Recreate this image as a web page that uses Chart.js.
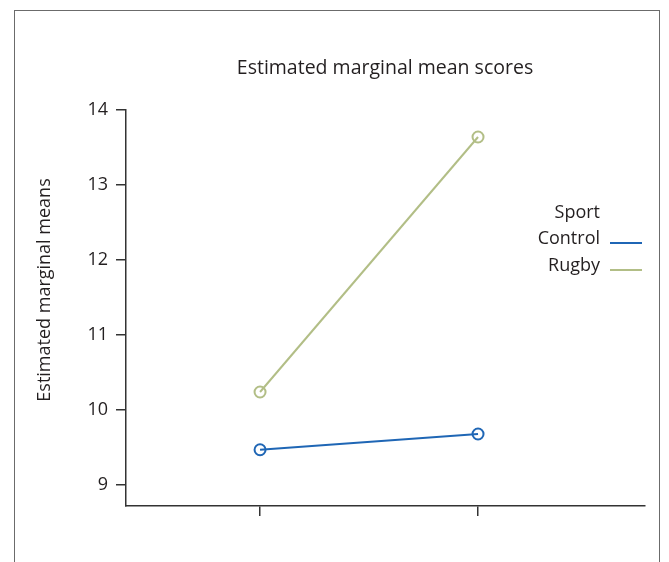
<!DOCTYPE html>
<html>
<head>
<meta charset="utf-8">
<script src="https://cdn.jsdelivr.net/npm/chart.js@4/dist/chart.umd.min.js"></script>
<style>
  html, body { margin: 0; padding: 0; background: #fff; }
  #wrap { position: relative; width: 669px; height: 562px; }
  #frame { position: absolute; left: 14px; top: 10px; width: 646px; height: 560px; border: 1px solid #6b6b6b; box-sizing: border-box; }
  canvas { position: absolute; left: 0; top: 0; }
</style>
</head>
<body>
<div id="wrap">
  <div id="frame"></div>
  <canvas id="chart" width="669" height="562"></canvas>
</div>
<script>
// Group positions along the x axis (two time points, unlabeled)
const groups = [1, 2];
// Estimated marginal means per sport
const controlMeans = [9.47, 9.68];
const rugbyMeans = [10.24, 13.64];
const seriesNames = ['Control', 'Rugby'];
const legendTitle = 'Sport';
const yTicks = [9, 10, 11, 12, 13, 14];
const chartTitle = 'Estimated marginal mean scores';
const yTitle = 'Estimated marginal means';

const FONT = '"Open Sans", "Noto Sans", sans-serif';
const INK = '#231f20';
const BLUE = '#1f66b5';
const OLIVE = '#b2be86';

const toPoints = (vals) => vals.map((v, i) => ({ x: groups[i], y: v }));

const annotations = {
  id: 'annotations',
  afterDraw(chart) {
    const ctx = chart.ctx;
    ctx.save();
    ctx.fillStyle = INK;
    ctx.textBaseline = 'middle';
    // Title
    ctx.font = '19.5px ' + FONT;
    ctx.textAlign = 'center';
    ctx.fillText(chartTitle, 385, 68);
    // Y axis title
    ctx.font = '18px ' + FONT;
    ctx.save();
    ctx.translate(45, 290);
    ctx.rotate(-Math.PI / 2);
    ctx.fillText(yTitle, 0, 0);
    ctx.restore();
    // Legend
    ctx.textAlign = 'right';
    ctx.fillText(legendTitle, 600, 213);
    chart.data.datasets.forEach((ds, i) => {
      const y = 239 + i * 27;
      ctx.fillStyle = INK;
      ctx.fillText(ds.label, 600, y);
      ctx.strokeStyle = ds.borderColor;
      ctx.lineWidth = 2;
      ctx.beginPath();
      ctx.moveTo(610, y + 4);
      ctx.lineTo(642, y + 4);
      ctx.stroke();
    });
    ctx.restore();
  }
};

new Chart(document.getElementById('chart'), {
  type: 'line',
  data: {
    datasets: [
      { label: seriesNames[0], data: toPoints(controlMeans), borderColor: BLUE, backgroundColor: 'rgba(0,0,0,0)',
        borderWidth: 2, pointRadius: 5.5, pointBorderWidth: 2, pointBorderColor: BLUE, pointBackgroundColor: 'rgba(0,0,0,0)' },
      { label: seriesNames[1], data: toPoints(rugbyMeans), borderColor: OLIVE, backgroundColor: 'rgba(0,0,0,0)',
        borderWidth: 2, pointRadius: 5.5, pointBorderWidth: 2, pointBorderColor: OLIVE, pointBackgroundColor: 'rgba(0,0,0,0)' }
    ]
  },
  options: {
    responsive: false,
    animation: false,
    layout: { padding: { left: 0, top: 110, right: 24, bottom: 0 } },
    plugins: { legend: { display: false }, title: { display: false }, tooltip: { enabled: false } },
    scales: {
      x: {
        type: 'linear',
        min: 0.385,
        max: 2.766,
        afterBuildTicks: (s) => { s.ticks = groups.map(v => ({ value: v })); },
        afterFit: (s) => { s.height = 56; },
        ticks: { callback: () => '', font: { size: 18, family: FONT } },
        grid: { drawOnChartArea: false, tickLength: 10, color: '#333', lineWidth: 1.5 },
        border: { display: true, color: '#333', width: 1.5 }
      },
      y: {
        min: 8.72,
        max: 14,
        afterBuildTicks: (s) => { s.ticks = yTicks.map(v => ({ value: v })); },
        afterFit: (s) => { s.width = 126; },
        ticks: { color: INK, padding: 8, font: { size: 18, family: FONT } },
        grid: { drawOnChartArea: false, tickLength: 10, color: '#333', lineWidth: 1.5 },
        border: { display: true, color: '#333', width: 1.5 }
      }
    }
  },
  plugins: [annotations]
});
</script>
</body>
</html>
